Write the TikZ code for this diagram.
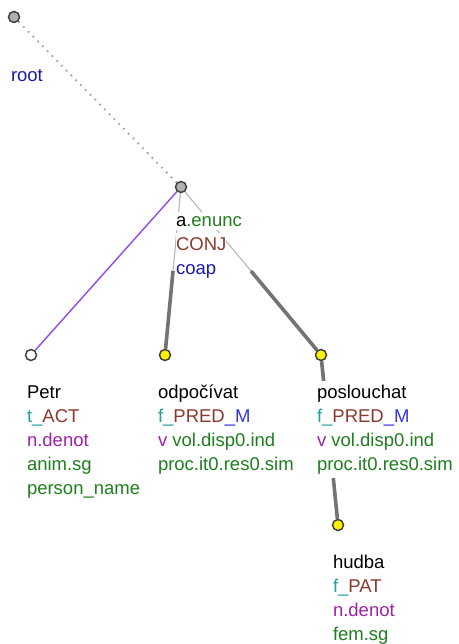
\documentclass[tikz,border=0pt]{standalone}
\usepackage{fontspec}
\setmainfont{Liberation Sans}
\usepackage{xcolor}
\usetikzlibrary{calc, backgrounds}

\definecolor{funcol}{RGB}{32,160,160}
\definecolor{aktcol}{RGB}{139,58,46}
\definecolor{blucol}{RGB}{26,26,168}
\definecolor{mcol}{RGB}{51,51,230}
\definecolor{grmcol}{RGB}{160,32,168}
\definecolor{attcol}{RGB}{31,127,31}
\definecolor{nodegray}{RGB}{176,176,176}
\definecolor{actline}{RGB}{150,70,240}

\begin{document}
\begin{tikzpicture}[
      x=1pt, y=-1pt,
      font=\fontsize{18.5}{24}\selectfont,
      tnode/.style={
          circle,
          draw=black!75,
          line width=1.5pt,
          inner sep=0pt,
          minimum size=11pt,
          fill=nodegray
      },
      lbl/.style={
          anchor=base west,
          inner xsep=0pt,
          inner ysep=4pt,
          outer sep=0pt,
          fill=white
      },
      thinedge/.style={draw=black!28, line width=1.2pt},
      coordedge/.style={draw=black!55, line width=3.6pt},
      rootedge/.style={draw=black!35, line width=1.8pt, dash pattern=on 1.8pt off 5pt},
      actedge/.style={draw=actline, line width=1.4pt}
  ]
      \useasboundingbox (0,0) rectangle (458,644);

      % --- Tree nodes ---
      \node[tnode] (root) at (14,17) {};
      \node[tnode] (enunc) at (181,187) {};
      \node[tnode, fill=white] (petr) at (31,355) {};
      \node[tnode, fill=yellow] (odp) at (165,355) {};
      \node[tnode, fill=yellow] (posl) at (321,355) {};
      \node[tnode, fill=yellow] (hudba) at (338,525) {};

      % --- Labels ---
      \node[lbl] (root_l1) at (11,82) {\color{blucol}root};

      \node[lbl] (enunc_l1) at (176,226) {a{\color{attcol}.enunc}};
      \node[lbl] (enunc_l2) at ($(enunc_l1.base west) + (0,24)$) {\color{aktcol}CONJ};
      \node[lbl] (enunc_l3) at ($(enunc_l2.base west) + (0,24)$) {\color{blucol}coap};

      \node[lbl] (petr_l1) at (27,398) {Petr};
      \node[lbl] (petr_l2) at ($(petr_l1.base west) + (0,24)$) {{\color{funcol}t\_}{\color{aktcol}ACT}};
      \node[lbl] (petr_l3) at ($(petr_l2.base west) + (0,24)$) {\color{grmcol}n.denot};
      \node[lbl] (petr_l4) at ($(petr_l3.base west) + (0,24)$) {\color{attcol}anim.sg};
      \node[lbl] (petr_l5) at ($(petr_l4.base west) + (0,24)$) {\color{attcol}person\_name};

      \node[lbl] (odp_l1) at (158,398) {odpočívat};
      \node[lbl] (odp_l2) at ($(odp_l1.base west) + (0,24)$) {{\color{funcol}f\_}{\color{aktcol}PRED}{\color{mcol}\_M}};
      \node[lbl] (odp_l3) at ($(odp_l2.base west) + (0,24)$) {{\color{grmcol}v} {\color{attcol}vol.disp0.ind}};
      \node[lbl] (odp_l4) at ($(odp_l3.base west) + (0,24)$) {\color{attcol}proc.it0.res0.sim};

      \node[lbl] (posl_l1) at (317,398) {poslouchat};
      \node[lbl] (posl_l2) at ($(posl_l1.base west) + (0,24)$) {{\color{funcol}f\_}{\color{aktcol}PRED}{\color{mcol}\_M}};
      \node[lbl] (posl_l3) at ($(posl_l2.base west) + (0,24)$) {{\color{grmcol}v} {\color{attcol}vol.disp0.ind}};
      \node[lbl] (posl_l4) at ($(posl_l3.base west) + (0,24)$) {\color{attcol}proc.it0.res0.sim};

      \node[lbl] (hudba_l1) at (333,568) {hudba};
      \node[lbl] (hudba_l2) at ($(hudba_l1.base west) + (0,24)$) {{\color{funcol}f\_}{\color{aktcol}PAT}};
      \node[lbl] (hudba_l3) at ($(hudba_l2.base west) + (0,24)$) {\color{grmcol}n.denot};
      \node[lbl] (hudba_l4) at ($(hudba_l3.base west) + (0,24)$) {\color{attcol}fem.sg};

      % --- Edges (behind labels) ---
      \begin{pgfonlayer}{background}
          \coordinate (odp_mid) at ($(enunc)!0.5!(odp)$);
          \coordinate (posl_mid) at ($(enunc)!0.5!(posl)$);

          \draw[rootedge] (root) -- (enunc);
          \draw[actedge] (enunc) -- (petr);

          \draw[thinedge] (enunc) -- (odp_mid);
          \draw[coordedge] (odp_mid) -- (odp);
          \draw[thinedge] (enunc) -- (posl_mid);
          \draw[coordedge] (posl_mid) -- (posl);

          \draw[coordedge] (posl) -- (hudba);
      \end{pgfonlayer}

  \end{tikzpicture}
\end{document}
